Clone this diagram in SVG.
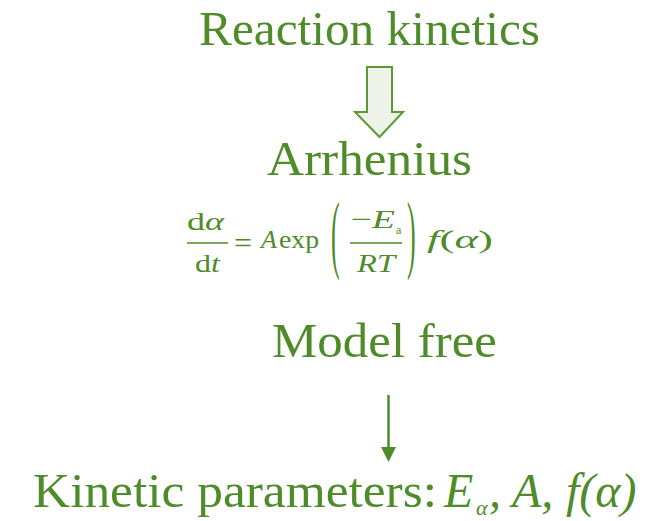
<svg xmlns="http://www.w3.org/2000/svg" width="667" height="521" viewBox="0 0 667 521">
  <style>
    .t { font-family: "Liberation Serif", "Times New Roman", serif; fill: #4e8c2a; }
    .big { font-size: 48px; }
    .eq { font-size: 26px; }
    .it { font-style: italic; }
    .rule { stroke: #4e8c2a; stroke-width: 1.6; }
  </style>
  <rect width="667" height="521" fill="#ffffff"/>

  <g id="connectors">
    <polygon points="367,67 392,67 392,112 403,112 379.5,137 355,112 367,112" fill="#eef3ea" stroke="#5a9a34" stroke-width="2" stroke-linejoin="miter"/>
    <line x1="388.5" y1="395" x2="388.5" y2="450" stroke="#4e8c2a" stroke-width="2.5"/>
    <polygon points="381,447 396,447 388.5,462" fill="#4e8c2a"/>
  </g>

  <g id="node-reaction-kinetics">
    <text class="t big" x="199" y="45" textLength="341" lengthAdjust="spacingAndGlyphs">Reaction kinetics</text>
  </g>

  <g id="node-arrhenius">
    <text class="t big" x="267" y="175" textLength="205" lengthAdjust="spacingAndGlyphs">Arrhenius</text>
    <g id="equation">
      <text class="t eq" x="187" y="230" textLength="37" lengthAdjust="spacingAndGlyphs">d<tspan class="it">α</tspan></text>
      <line class="rule" x1="187" y1="243" x2="228" y2="243"/>
      <text class="t eq" x="195" y="272" textLength="25" lengthAdjust="spacingAndGlyphs">d<tspan class="it">t</tspan></text>
      <text class="t" x="234" y="253" font-size="30" textLength="18" lengthAdjust="spacingAndGlyphs">=</text>
      <text class="t eq it" x="261" y="248">A</text>
      <text class="t eq" x="279" y="248" textLength="40" lengthAdjust="spacingAndGlyphs">exp</text>
      <text class="t eq" transform="translate(331,262) scale(1,3.3)">(</text>
      <text class="t eq" x="351" y="228" textLength="44" lengthAdjust="spacingAndGlyphs">−<tspan class="it">E</tspan></text>
      <text class="t" x="396" y="234" font-size="12">a</text>
      <line class="rule" x1="350" y1="243" x2="402" y2="243"/>
      <text class="t eq it" x="357" y="272" textLength="38" lengthAdjust="spacingAndGlyphs">RT</text>
      <text class="t eq" transform="translate(407,262) scale(1,3.3)">)</text>
      <text class="t eq" x="427" y="248" textLength="66" lengthAdjust="spacingAndGlyphs"><tspan class="it">f</tspan>(<tspan class="it">α</tspan>)</text>
    </g>
  </g>

  <g id="node-model-free">
    <text class="t big" x="272" y="357" textLength="225" lengthAdjust="spacingAndGlyphs">Model free</text>
  </g>

  <g id="node-kinetic-parameters">
    <text class="t big" x="33" y="507" textLength="404" lengthAdjust="spacingAndGlyphs">Kinetic parameters:</text>
    <text class="t big it" x="444" y="507">E</text>
    <text class="t it" x="476" y="515" font-size="22">α</text>
    <text class="t big it" x="489" y="507">,</text>
    <text class="t big it" x="512" y="507">A,</text>
    <text class="t big it" x="566" y="507">f(α)</text>
  </g>
</svg>
